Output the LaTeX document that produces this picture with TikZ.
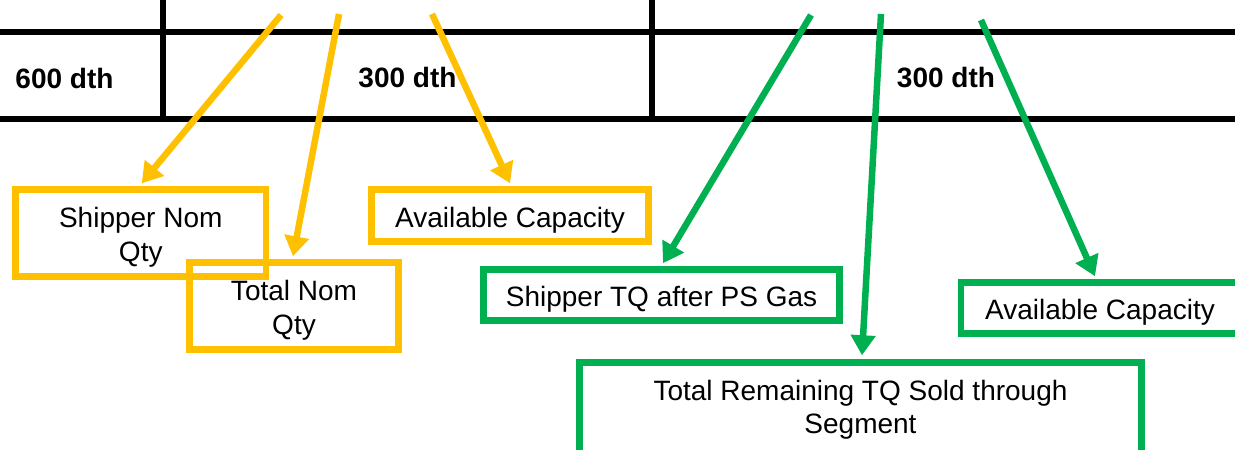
\documentclass[tikz,border=0pt]{standalone}
\usepackage{fontspec}
\setmainfont{Liberation Sans}
\usetikzlibrary{arrows.meta}
\definecolor{ylw}{HTML}{FFC000}
\definecolor{grn}{HTML}{00B050}
\newcommand{\myup}{\rule{0pt}{29pt}}
\begin{document}
\begin{tikzpicture}[x=1pt,y=-1pt,
  tbl/.style={line width=6pt,black},
  val/.style={font=\fontsize{28}{33.5}\selectfont\bfseries,inner sep=0pt},
  lbl/.style={draw,line width=6.5pt,inner sep=0pt,align=center,
    font=\fontsize{28}{33.5}\selectfont},
  ybox/.style={lbl,draw=ylw},
  gbox/.style={lbl,draw=grn},
  arr/.style={line width=6.5pt,-{Triangle[length=20pt,width=24pt]}},
  yarr/.style={arr,ylw},
  garr/.style={arr,grn}]
\useasboundingbox (0,0) rectangle (1235,450);
\clip (0,0) rectangle (1235,450);
% table
\draw[tbl] (-10,32) -- (1245,32);
\draw[tbl] (-10,119) -- (1245,119);
\draw[tbl] (163,-10) -- (163,119);
\draw[tbl] (652,-10) -- (652,119);
\node[val] (v1) at (64.5,78) {600 dth};
\node[val] (v2) at (407.5,78) {300 dth};
\node[val] (v3) at (946,78) {300 dth};
% boxes
\node[ybox,minimum width=250.5pt,minimum height=87pt] (shipnom) at (140.75,233) {\myup Shipper Nom\\Qty};
\node[ybox,minimum width=209pt,minimum height=87pt] (totnom) at (294,306) {\myup Total Nom\\Qty};
\node[ybox,minimum width=277pt,minimum height=52pt] (avail1) at (510,215.5) {\myup Available Capacity};
\node[gbox,minimum width=356pt,minimum height=51pt] (shiptq) at (661.5,295) {\myup Shipper TQ after PS Gas};
\node[gbox,minimum width=278pt,minimum height=51pt] (avail2) at (1100,308) {\myup Available Capacity};
\node[gbox,minimum width=562pt,minimum height=92pt] (totrem) at (860.5,408.5) {\rule{0pt}{23pt}Total Remaining TQ Sold through\\Segment};
% arrow starts
\coordinate (a1) at (281,15);
\coordinate (a2) at (339,14);
\coordinate (a3) at (432,14);
\coordinate (g1) at (811,15);
\coordinate (g2) at (881,14);
\coordinate (g3) at (981,20);
% arrows
\draw[yarr] (a1) -- ([xshift=1pt,yshift=3pt]shipnom.north);
\draw[yarr] (a2) -- ([xshift=-1pt,yshift=3pt]totnom.north);
\draw[yarr] (a3) -- ([yshift=3pt]avail1.north);
\draw[garr] (g1) -- ([xshift=1.5pt,yshift=3pt]shiptq.north);
\draw[garr] (g2) -- ([xshift=1.5pt,yshift=4pt]totrem.north);
\draw[garr] (g3) -- ([xshift=-5pt,yshift=3pt]avail2.north);
\end{tikzpicture}
\end{document}
